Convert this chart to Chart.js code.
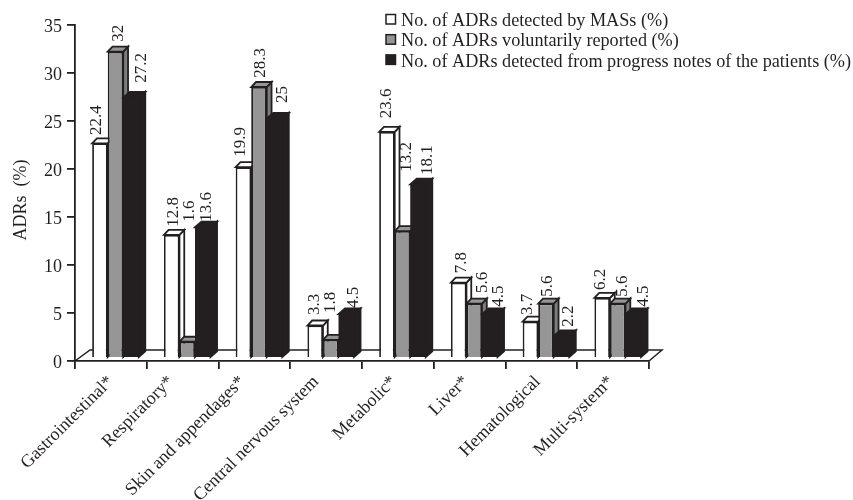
<!DOCTYPE html>
<html>
<head>
<meta charset="utf-8">
<style>html,body{margin:0;padding:0;background:#fff}#wrap{width:853px;height:500px}</style>
<script src="https://cdn.jsdelivr.net/npm/chart.js@4"></script>
</head>
<body>
<div id="wrap"><canvas id="c" width="853" height="500"></canvas></div>
<script>
const categories = ['Gastrointestinal*','Respiratory*','Skin and appendages*','Central nervous system','Metabolic*','Liver*','Hematological','Multi-system*'];
const masValues = [22.4,12.8,19.9,3.3,23.6,7.8,3.7,6.2];
const voluntaryValues = [32,1.6,28.3,1.8,13.2,5.6,5.6,5.6];
const notesValues = [27.2,13.6,25,4.5,18.1,4.5,2.2,4.5];
const seriesNames = ['No. of ADRs detected by MASs (%)','No. of ADRs voluntarily reported (%)','No. of ADRs detected from progress notes of the patients (%)'];
const seriesFills = ['#ffffff','#969696','#231f20'];
const seriesSides = ['#ffffff','#7d7d7d','#231f20'];
const yTicks = [0,5,10,15,20,25,30,35];

// Hand placement of the rotated value labels, per category then per series.
const labelNudgeX = [
  [-3, 2.8, 10.7],
  [2.3, 2.7, 3.9],
  [-2.8, 2, 8.4],
  [-0.2, 0.2, 7],
  [-0.3, 4.2, 10],
  [3, 8.7, 8.5],
  [-2.8, 2, 7.4],
  [-1.2, 4.5, 10]
];
const labelLift = [
  [8.3, 10, 14.8],
  [8.2, 120, 5.6],
  [10.5, 9.3, 15.5],
  [10.5, 26.8, 6],
  [13.6, 59.3, 9.3],
  [9.3, 10.6, 7.3],
  [6.7, 6.9, 9.3],
  [7.9, 6.9, 7.3]
];
// Horizontal offset of each slanted category label from its category centre.
const categoryLabelNudge = [0, -11.6, -12, -10, -4, -3.6, -3.7, -2];

const INK = '#231f20';
const SERIF = '"Liberation Serif"';
const DEPTH_X = [4.8, 4.8, 6.5], DEPTH_Y = [5, 5, 5.7], GROUP_SHIFT = 4.6;

const depthBars = {
  id: 'depthBars',
  beforeDatasetsDraw(chart) {
    const {ctx, chartArea: a, scales: {y}} = chart;
    const base = y.getPixelForValue(0);
    // Floor of the plot
    ctx.save();
    ctx.strokeStyle = INK; ctx.lineWidth = 1.5;
    ctx.beginPath();
    ctx.moveTo(a.left, base); ctx.lineTo(a.left + 15, base - 11);
    ctx.lineTo(a.right + 13, base - 11); ctx.lineTo(a.right, base);
    ctx.stroke();
    ctx.restore();

    // Side and top faces go down first; the library paints the bar fronts over them.
    ctx.save();
    ctx.translate(GROUP_SHIFT, 0);
    chart.data.datasets.forEach((ds, i) => {
      const dx = DEPTH_X[i], dy = DEPTH_Y[i];
      chart.getDatasetMeta(i).data.forEach(bar => {
        const p = bar.getProps(['x','y','base','width'], true);
        const l = p.x - p.width / 2, r = p.x + p.width / 2;
        ctx.lineWidth = 1.8; ctx.strokeStyle = INK; ctx.lineJoin = 'miter';
        ctx.fillStyle = seriesSides[i];
        ctx.beginPath();
        ctx.moveTo(r, p.y); ctx.lineTo(r + dx, p.y - dy);
        ctx.lineTo(r + dx, p.base - dy); ctx.lineTo(r, p.base);
        ctx.closePath(); ctx.fill(); ctx.stroke();
        ctx.fillStyle = ds.backgroundColor;
        ctx.beginPath();
        ctx.moveTo(l, p.y); ctx.lineTo(l + dx, p.y - dy);
        ctx.lineTo(r + dx, p.y - dy); ctx.lineTo(r, p.y);
        ctx.closePath(); ctx.fill(); ctx.stroke();
      });
    });
  },
  afterDatasetsDraw(chart) {
    const {ctx, scales: {x}} = chart;
    ctx.restore();

    // Rotated value labels above the bars
    ctx.save();
    ctx.font = '17px ' + SERIF;
    ctx.fillStyle = INK;
    ctx.textAlign = 'left';
    ctx.textBaseline = 'middle';
    chart.data.datasets.forEach((ds, i) => {
      chart.getDatasetMeta(i).data.forEach((bar, j) => {
        const p = bar.getProps(['x','y'], true);
        ctx.save();
        ctx.translate(p.x + GROUP_SHIFT + labelNudgeX[j][i], p.y - labelLift[j][i]);
        ctx.rotate(-Math.PI / 2);
        ctx.fillText(String(ds.data[j]), 0, 0);
        ctx.restore();
      });
    });
    ctx.restore();

    // Slanted category labels under the axis
    ctx.save();
    ctx.font = '18px ' + SERIF;
    ctx.fillStyle = INK;
    ctx.textAlign = 'right';
    ctx.textBaseline = 'middle';
    categories.forEach((name, j) => {
      ctx.save();
      ctx.translate(x.getPixelForValue(j) + categoryLabelNudge[j], x.top + 18);
      ctx.rotate(-Math.PI / 4);
      ctx.fillText(name, 0, 0);
      ctx.restore();
    });
    ctx.restore();

    // Axis title, centred a little below the middle of the axis
    ctx.save();
    ctx.font = '18px ' + SERIF;
    ctx.fillStyle = INK;
    ctx.textAlign = 'center';
    ctx.textBaseline = 'middle';
    ctx.translate(21, 200);
    ctx.rotate(-Math.PI / 2);
    ctx.fillText('ADRs  (%)', 0, 0);
    ctx.restore();

    // Legend block at the upper right
    ctx.save();
    ctx.font = '18.2px ' + SERIF;
    ctx.textAlign = 'left';
    ctx.textBaseline = 'alphabetic';
    seriesNames.forEach((name, i) => {
      const rowY = 14.5 + i * 20.2;
      ctx.fillStyle = seriesFills[i];
      ctx.strokeStyle = INK; ctx.lineWidth = 1.5;
      ctx.fillRect(386, rowY, 9.5, 9.5);
      ctx.strokeRect(386, rowY, 9.5, 9.5);
      ctx.fillStyle = INK;
      ctx.fillText(name, 401, rowY + 11.7);
    });
    ctx.restore();
  }
};

new Chart(document.getElementById('c'), {
  type: 'bar',
  data: {
    labels: categories,
    datasets: [masValues, voluntaryValues, notesValues].map((values, i) => ({
      label: seriesNames[i],
      data: values,
      yAxisID: 'yBars',
      backgroundColor: seriesFills[i],
      borderColor: INK,
      borderWidth: i === 2 ? 0 : 1.8,
      barPercentage: 1,
      categoryPercentage: 0.65
    }))
  },
  options: {
    responsive: false,
    animation: false,
    devicePixelRatio: 1,
    layout: {padding: {top: 25, right: 204, left: 0, bottom: 0}},
    plugins: {legend: {display: false}, title: {display: false}, tooltip: {enabled: false}},
    scales: {
      x: {
        grid: {drawOnChartArea: false, color: INK, lineWidth: 1.8, tickLength: 8, offset: true},
        border: {color: INK, width: 1.8},
        ticks: {display: false},
        afterFit(scale) { scale.height = 139; }
      },
      y: {
        position: 'left',
        min: 0, max: 35,
        afterBuildTicks(scale) { scale.ticks = yTicks.map(value => ({value})); },
        grid: {drawOnChartArea: false, color: INK, lineWidth: 1.8, tickLength: 8},
        border: {color: INK, width: 1.8},
        ticks: {color: INK, font: {family: SERIF, size: 18}, padding: 5, labelOffset: 2},
        afterFit(scale) { scale.width = 75; }
      },
      // Bars stand slightly in front of the axis plane, so they use their own hidden scale.
      yBars: {display: false, min: -0.42, max: 34.8}
    }
  },
  plugins: [depthBars]
});
</script>
</body>
</html>
